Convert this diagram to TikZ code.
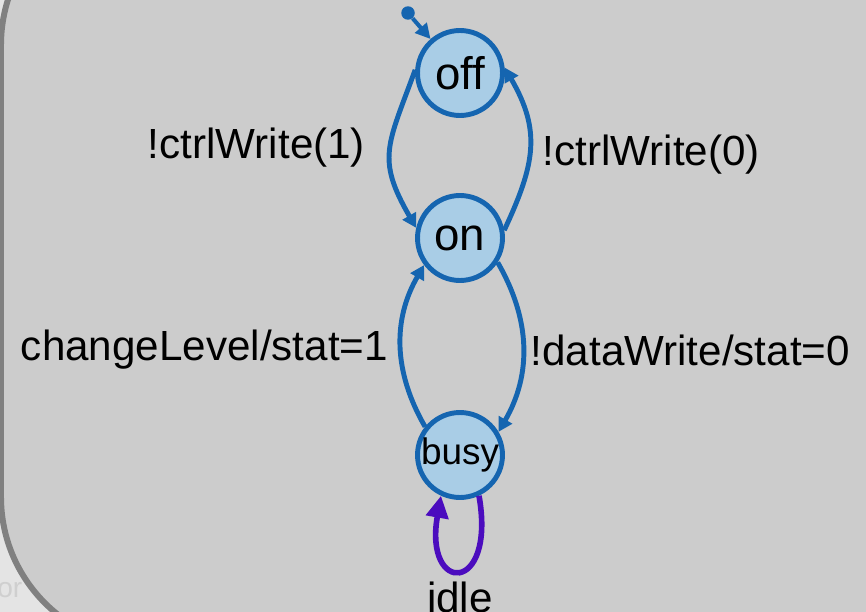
\documentclass[tikz,border=0pt]{standalone}
\usepackage{fontspec}
\setmainfont{Liberation Sans}
\usetikzlibrary{arrows.meta}
\definecolor{stateblue}{HTML}{1565B0}
\definecolor{statefill}{HTML}{A9CDE6}
\definecolor{loopviolet}{HTML}{4B0CBE}
\definecolor{regiongray}{HTML}{CCCCCC}
\definecolor{regionborder}{HTML}{808080}
\definecolor{pagegray}{HTML}{E4E4E4}
\definecolor{fadedtext}{HTML}{CFCFCF}

\tikzset{
  statenode/.style={circle, draw=stateblue, fill=statefill, line width=2.8pt,
    minimum size=1.7cm, inner sep=0pt, text=black},
  trans/.style={draw=stateblue, line width=2.8pt,
    -{Triangle[length=0.28cm, width=0.3cm]}},
  translabel/.style={font=\fontsize{24}{28}\selectfont, inner sep=2pt, text=black}
}

\begin{document}
\begin{tikzpicture}[x=0.02cm, y=0.02cm]
        \useasboundingbox (0,0) rectangle (866,-612);
        \clip (0,0) rectangle (866,-612);
        \fill[pagegray] (0,0) rectangle (866,-612);

        % Text of the neighbouring region, mostly hidden
        \node[anchor=base west, inner sep=0pt, text=fadedtext,
          font=\fontsize{16}{18}\selectfont] (nbtext) at (-3,-597) {or};

        % Region frame
        \draw[regionborder, fill=regiongray, line width=3.4pt, rounded corners=3cm]
          (1,105) rectangle (1100,-647);

        % States
        \node[statenode, font=\fontsize{26}{30}\selectfont] (off) at (460,-73) {off};
        \node[statenode, font=\fontsize{26}{30}\selectfont] (on) at (460,-238) {on};
        \node[statenode, font=\fontsize{21}{24}\selectfont] (busy) at (460,-455) {busy};

        % Initial pseudostate
        \node[circle, fill=stateblue, minimum size=0.27cm, inner sep=0pt] (init) at (408,-13) {};
        \draw[stateblue, line width=2.3pt, -{Triangle[length=0.3cm, width=0.3cm]}] (init) -- (off);

        % Transitions between off and on
        \draw[trans] (off.176) to[out=250, in=120, looseness=1.3]
          node[translabel, left=11pt, yshift=2pt] (lblon) {!ctrlWrite(1)} (on.167);
        \draw[trans] (on.10) to[out=65, in=300, looseness=1.15]
          node[translabel, right=4pt, yshift=-4pt] (lbloff) {!ctrlWrite(0)} (off.7);

        % Transitions between on and busy
        \draw[trans] (on.-33) to[out=-60, in=60]
          node[translabel, right=1pt, yshift=-2pt] (lblbusy) {!dataWrite/stat=0} (busy.31);
        \draw[trans] (busy.141) to[out=120, in=240]
          node[translabel, left=4pt, yshift=-2pt] (lblback) {changeLevel/stat=1} (on.217);

        % Self loop on busy
        \draw[loopviolet, line width=3.2pt, -{Triangle[length=0.44cm, width=0.44cm]}]
          (busy.295) to[out=-80, in=-100, looseness=6.8]
          node[translabel, below=3pt] (lblidle) {idle} (busy.245);
\end{tikzpicture}
\end{document}
